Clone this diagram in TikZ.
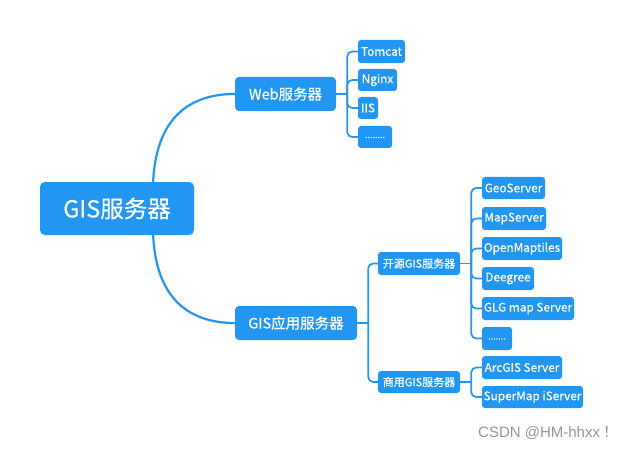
\documentclass[tikz,border=0pt]{standalone}
\usepackage{fontspec}
\setmainfont{Noto Sans CJK SC}[FakeBold=0.5]
\newfontfamily\wmfont{Liberation Sans}
\newfontfamily\cjkplain{Noto Sans CJK SC}
\usetikzlibrary{backgrounds}
\definecolor{mmblue}{RGB}{33,150,243}
\definecolor{wmgray}{RGB}{150,150,150}
\tikzset{
  mbox/.style={fill=mmblue, draw=none, rounded corners=3pt, text=white, inner sep=0pt, align=center},
  rootbox/.style={mbox, rounded corners=5pt, font=\fontsize{23.5}{26}\selectfont},
  midbox/.style={mbox, rounded corners=4pt, font=\fontsize{14.5}{17}\selectfont},
  subbox/.style={mbox, font=\fontsize{11}{13}\selectfont},
  leafbox/.style={mbox, font=\fontsize{11.8}{13}\selectfont},
  conn/.style={draw=mmblue, line width=2.2pt},
  bracket/.style={draw=mmblue, line width=1.7pt, rounded corners=5pt},
}
\begin{document}
\begin{tikzpicture}[x=1pt,y=-1pt]
\useasboundingbox (0,0) rectangle (623,449);
% nodes
\node[rootbox, minimum width=154pt, minimum height=53pt] (root) at (117,208.5) {GIS服务器};
\node[midbox, minimum width=101pt, minimum height=34pt] (web) at (285.5,94) {Web服务器};
\node[midbox, minimum width=122pt, minimum height=34pt] (gisapp) at (296,323) {GIS应用服务器};
\node[leafbox, minimum width=47pt, minimum height=23pt] (tomcat) at (381.5,51.5) {Tomcat};
\node[leafbox, minimum width=39pt, minimum height=22pt] (nginx) at (377.5,80) {Nginx};
\node[leafbox, minimum width=20pt, minimum height=22pt] (iis) at (368,108) {IIS};
\node[leafbox, minimum width=34pt, minimum height=22pt] (dotsa) at (375,137) {\raisebox{-2pt}{\fontsize{9}{10}\selectfont ........}};
\node[subbox, minimum width=82pt, minimum height=23pt] (open) at (419,263.5) {开源GIS服务器};
\node[subbox, minimum width=82pt, minimum height=22pt] (comm) at (419,382) {商用GIS服务器};
\node[leafbox, minimum width=63pt, minimum height=22pt] (geo) at (513.5,188) {GeoServer};
\node[leafbox, minimum width=64pt, minimum height=23pt] (mapsrv) at (514,218.5) {MapServer};
\node[leafbox, minimum width=80pt, minimum height=23pt] (omt) at (522,248.5) {OpenMaptiles};
\node[leafbox, minimum width=52pt, minimum height=23pt] (deegree) at (508,278.5) {Deegree};
\node[leafbox, minimum width=92pt, minimum height=23pt] (glg) at (528,308.5) {GLG map Server};
\node[leafbox, minimum width=30pt, minimum height=23pt] (dotsb) at (497,338.5) {\raisebox{-2pt}{\fontsize{9}{10}\selectfont .......}};
\node[leafbox, minimum width=80pt, minimum height=23pt] (arcgis) at (522,367.5) {ArcGIS Server};
\node[leafbox, minimum width=101pt, minimum height=22pt] (supermap) at (532.5,397) {SuperMap iServer};
\node[text=wmgray, inner sep=0pt, anchor=west, font=\fontsize{15}{17}\selectfont] (wm) at (478,433) {{\wmfont CSDN @HM-hhxx}\hspace{3pt}{\cjkplain ！}};
% connectors
\begin{scope}[on background layer]
\draw[conn] ([xshift=36pt,yshift=-3pt]root.north) .. controls +(2,-62) and +(-50,0) .. (web.west);
\draw[conn] ([xshift=36pt,yshift=3pt]root.south) .. controls +(2,62) and +(-50,0) .. (gisapp.west);
% web bracket
\draw[bracket] (web.east) -- ++(11,0) coordinate (wb);
\draw[bracket] (wb) |- (tomcat.west);
\draw[bracket] (wb) |- (nginx.west);
\draw[bracket] (wb) |- (iis.west);
\draw[bracket] (wb) |- (dotsa.west);
% gis app bracket
\draw[bracket] (gisapp.east) -- ++(11,0) coordinate (gb);
\draw[bracket] (gb) |- (open.west);
\draw[bracket] (gb) |- (comm.west);
% open bracket
\draw[bracket] (open.east) -- ++(11,0) coordinate (ob);
\draw[bracket] (ob) |- (geo.west);
\draw[bracket] (ob) |- (mapsrv.west);
\draw[bracket] (ob) |- (omt.west);
\draw[bracket] (ob) |- (deegree.west);
\draw[bracket] (ob) |- (glg.west);
\draw[bracket] (ob) |- (dotsb.west);
% commercial bracket
\draw[bracket] (comm.east) -- ++(11,0) coordinate (cb);
\draw[bracket] (cb) |- (arcgis.west);
\draw[bracket] (cb) |- (supermap.west);
\end{scope}
\end{tikzpicture}
\end{document}
